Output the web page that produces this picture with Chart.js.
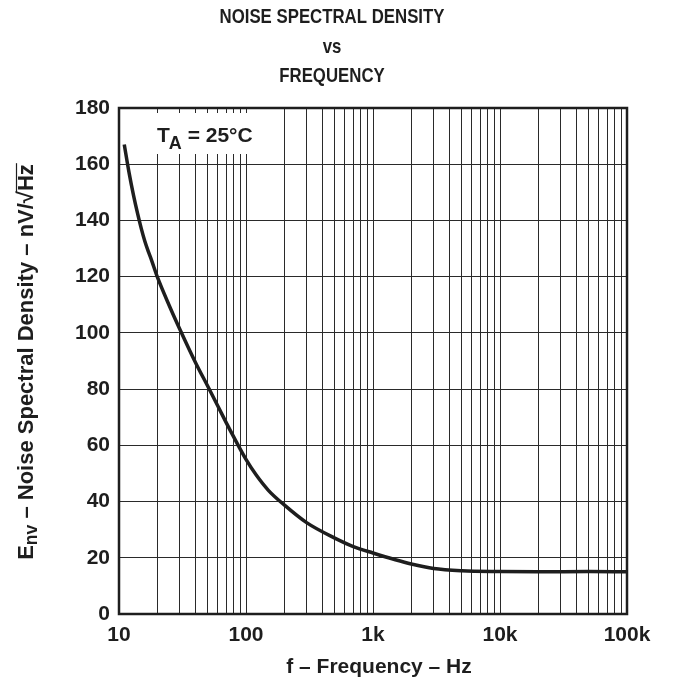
<!DOCTYPE html>
<html>
<head>
<meta charset="utf-8">
<script src="https://cdn.jsdelivr.net/npm/chart.js@4.4.1/dist/chart.umd.min.js"></script>
<style>
  html, body { margin: 0; padding: 0; background: #fff; }
  #wrap { width: 675px; height: 681px; position: relative; }
</style>
</head>
<body>
<div id="wrap"><canvas id="c" width="675" height="681"></canvas></div>
<script>
// ---- data ----
const freqHz = [11, 12, 13, 14, 15, 16, 17, 18, 20, 25, 30, 40, 50, 60, 70, 80, 100, 120, 150, 200, 300, 500, 700, 1000, 1500, 2000, 3000, 5000, 10000, 20000, 50000, 100000];
const noiseDensity = [167, 157, 149, 142.5, 137, 132.5, 129, 126, 120, 109.5, 101.5, 89.5, 81, 74, 68, 63, 55, 49.5, 44, 38.8, 32.5, 27, 24, 21.7, 19.3, 17.8, 16.2, 15.4, 15.1, 15.0, 15.1, 15.0];
const xDecades = [10, 100, 1000, 10000, 100000];
const xDecadeLabels = ['10', '100', '1k', '10k', '100k'];
const yTickValues = [0, 20, 40, 60, 80, 100, 120, 140, 160, 180];
const titleLines = ['NOISE SPECTRAL DENSITY', 'vs', 'FREQUENCY'];
const xTitle = 'f \u2013 Frequency \u2013 Hz';
const conditionText = { main: 'T', sub: 'A', rest: ' = 25\u00B0C' };

const FONT = '"Liberation Sans", Arial, Helvetica, sans-serif';
const INK = '#1e1e1e';

// all minor + major x ticks (1..9 x decade)
const xTickValues = [];
for (let d = 0; d < xDecades.length; d++) {
  const base = xDecades[d];
  if (d === xDecades.length - 1) { xTickValues.push(base); break; }
  for (let m = 1; m <= 9; m++) xTickValues.push(base * m);
}

const points = freqHz.map((f, i) => ({ x: f, y: noiseDensity[i] }));

const decorPlugin = {
  id: 'decor',
  beforeDatasetsDraw(chart) {
    const ctx = chart.ctx;
    // white box behind condition label
    ctx.save();
    ctx.fillStyle = '#fff';
    ctx.fillRect(150, 113, 118, 41);
    ctx.fillStyle = INK;
    ctx.textBaseline = 'alphabetic';
    ctx.textAlign = 'left';
    ctx.font = 'bold 21px ' + FONT;
    let x = 157;
    ctx.fillText(conditionText.main, x, 142);
    x += ctx.measureText(conditionText.main).width - 1;
    ctx.font = 'bold 18px ' + FONT;
    ctx.fillText(conditionText.sub, x, 149);
    x += ctx.measureText(conditionText.sub).width;
    ctx.font = 'bold 21px ' + FONT;
    ctx.fillText(conditionText.rest, x, 142);
    ctx.restore();
  },
  afterDraw(chart) {
    const ctx = chart.ctx;
    const a = chart.chartArea;
    ctx.save();
    // frame
    ctx.strokeStyle = INK;
    ctx.lineWidth = 2.5;
    ctx.strokeRect(a.left, a.top, a.right - a.left, a.bottom - a.top);

    // title (condensed bold)
    ctx.fillStyle = INK;
    ctx.textAlign = 'center';
    ctx.textBaseline = 'middle';
    ctx.font = 'bold 21px ' + FONT;
    const cx = 332;
    const ys = [17, 47, 76];
    titleLines.forEach((t, i) => {
      ctx.save();
      ctx.translate(cx, ys[i]);
      ctx.scale(0.8, 1);
      ctx.fillText(t, 0, 0);
      ctx.restore();
    });

    // x title
    ctx.font = 'bold 21px ' + FONT;
    ctx.fillText(xTitle, 379, 667);

    // y title (rotated) : E_nv – Noise Spectral Density – nV/√Hz
    ctx.translate(27, 362);
    ctx.rotate(-Math.PI / 2);
    ctx.textAlign = 'left';
    ctx.textBaseline = 'middle';
    const big = 'bold 22px ' + FONT, small = 'bold 17.5px ' + FONT;
    const parts = [
      { t: 'E', f: big, dy: 0 },
      { t: 'nv', f: small, dy: 5 },
      { t: ' \u2013 Noise Spectral Density \u2013 nV/', f: big, dy: 0 },
      { t: '\u221A', f: big, dy: 0 },
      { t: 'Hz', f: big, dy: 0, over: true }
    ];
    let total = 0;
    parts.forEach(p => { ctx.font = p.f; p.w = ctx.measureText(p.t).width; total += p.w; });
    let px = -total / 2;
    parts.forEach(p => {
      ctx.font = p.f;
      ctx.fillText(p.t, px, p.dy);
      if (p.over) {
        ctx.beginPath();
        ctx.lineWidth = 1.2;
        ctx.strokeStyle = INK;
        ctx.moveTo(px - 1, -10.5);
        ctx.lineTo(px + p.w + 1, -10.5);
        ctx.stroke();
      }
      px += p.w;
    });
    ctx.restore();
  }
};

new Chart(document.getElementById('c'), {
  type: 'scatter',
  data: {
    datasets: [{
      data: points,
      showLine: true,
      borderColor: INK,
      borderWidth: 3.5,
      pointRadius: 0,
      fill: false,
      cubicInterpolationMode: 'monotone'
    }]
  },
  options: {
    responsive: false,
    animation: false,
    devicePixelRatio: 1,
    layout: { padding: { top: 108, right: 48, left: 0, bottom: 0 } },
    plugins: { legend: { display: false }, tooltip: { enabled: false }, title: { display: false } },
    scales: {
      x: {
        type: 'logarithmic',
        min: 10,
        max: 100000,
        afterBuildTicks(scale) { scale.ticks = xTickValues.map(v => ({ value: v })); },
        afterFit(scale) { scale.height = 67; },
        ticks: {
          autoSkip: false,
          maxRotation: 0,
          padding: 9,
          color: INK,
          font: { family: FONT, size: 21, weight: 'bold' },
          callback(v) { const i = xDecades.indexOf(v); return i >= 0 ? xDecadeLabels[i] : ''; }
        },
        grid: { color: '#2a2a2a', lineWidth: 1, drawTicks: false },
        border: { display: false }
      },
      y: {
        min: 0,
        max: 180,
        afterBuildTicks(scale) { scale.ticks = yTickValues.map(v => ({ value: v })); },
        afterFit(scale) { scale.width = 119; },
        ticks: {
          padding: 9,
          color: INK,
          font: { family: FONT, size: 21, weight: 'bold' }
        },
        grid: { color: '#2a2a2a', lineWidth: 1, drawTicks: false },
        border: { display: false }
      }
    }
  },
  plugins: [decorPlugin]
});
</script>
</body>
</html>
